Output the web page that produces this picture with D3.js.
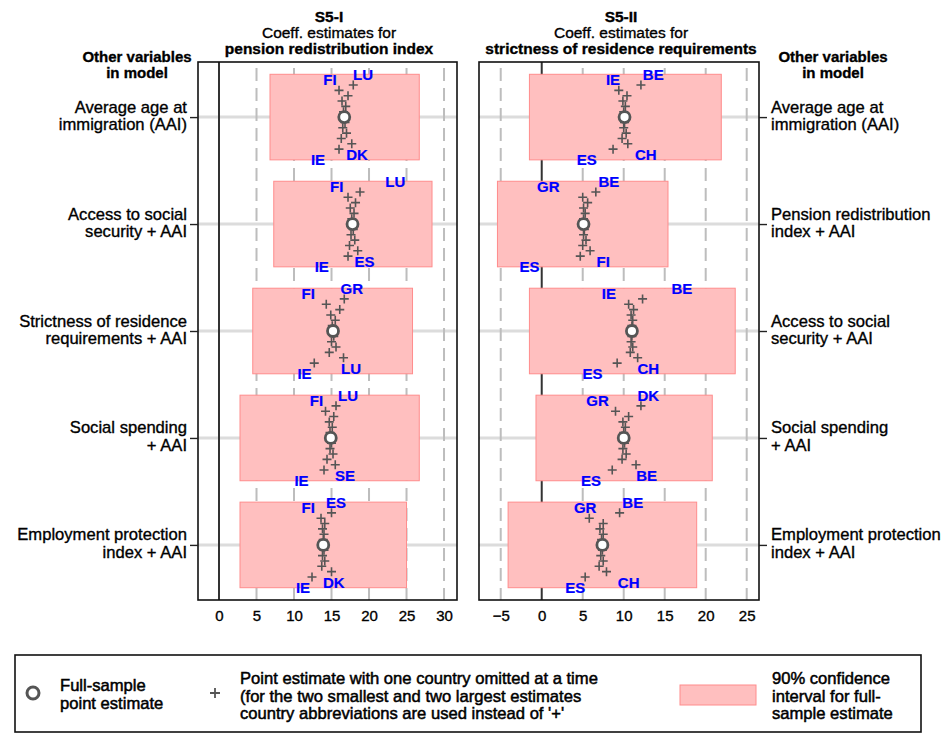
<!DOCTYPE html>
<html>
<head>
<meta charset="utf-8">
<script src="https://cdn.jsdelivr.net/npm/d3@7"></script>
<style>
  body { margin: 0; background: #fff; }
  svg text { font-family: "Liberation Sans", Arial, sans-serif; fill: #000; stroke: #000; stroke-width: 0.35px; }
</style>
</head>
<body>
<svg id="chart" width="951" height="733"></svg>
<script>
// ---- Row labels: other variables included in each model ----
const rowsI = [
  ["Average age at", "immigration (AAI)"],
  ["Access to social", "security + AAI"],
  ["Strictness of residence", "requirements + AAI"],
  ["Social spending", "+ AAI"],
  ["Employment protection", "index + AAI"]
];
const rowsII = [
  ["Average age at", "immigration (AAI)"],
  ["Pension redistribution", "index + AAI"],
  ["Access to social", "security + AAI"],
  ["Social spending", "+ AAI"],
  ["Employment protection", "index + AAI"]
];

// ---- Axis tick values ----
const ticksI = [0, 5, 10, 15, 20, 25, 30];
const ticksII = [-5, 0, 5, 10, 15, 20, 25];

// ---- S5-I: pension redistribution index ----
const pointI = [16.7, 17.8, 15.2, 14.9, 13.9];
const ciLowI = [6.8, 7.3, 4.5, 2.8, 2.8];
const ciHighI = [26.7, 28.4, 25.8, 26.7, 25.0];
// leave-one-country-out estimates (ascending)
const looI = [
  [13.2, 14.8, 16.0, 16.0, 16.3, 16.4, 16.5, 16.6, 16.7, 16.8, 16.9, 17.0, 17.2, 17.7, 17.9, 18.4, 19.2],
  [13.7, 15.7, 17.2, 17.2, 17.4, 17.5, 17.6, 17.7, 17.8, 17.9, 18.0, 18.1, 18.2, 18.5, 18.8, 19.4, 23.5],
  [11.4, 11.9, 12.7, 14.3, 14.7, 14.9, 15.0, 15.1, 15.2, 15.3, 15.5, 15.6, 16.1, 16.6, 16.7, 17.6, 17.7],
  [11.0, 13.0, 14.0, 14.2, 14.4, 14.7, 14.8, 14.8, 14.9, 15.0, 15.1, 15.2, 15.3, 15.5, 15.6, 16.8, 17.2],
  [11.2, 11.9, 12.4, 13.6, 13.7, 13.8, 13.8, 13.9, 13.9, 14.0, 14.0, 14.1, 14.1, 15.0, 15.0, 15.3, 15.6]
];
// countries behind [smallest, 2nd smallest, 2nd largest, largest]
const extremesI = [
  ["IE", "FI", "DK", "LU"],
  ["IE", "FI", "ES", "LU"],
  ["IE", "FI", "LU", "GR"],
  ["IE", "FI", "SE", "LU"],
  ["IE", "FI", "DK", "ES"]
];

// ---- S5-II: strictness of residence requirements ----
const pointII = [10.1, 5.1, 11.0, 10.0, 7.4];
const ciLowII = [-1.5, -5.4, -1.5, -0.7, -4.1];
const ciHighII = [21.9, 15.4, 23.6, 20.8, 18.9];
const looII = [
  [5.5, 8.7, 8.7, 9.4, 9.8, 9.9, 10.0, 10.0, 10.1, 10.1, 10.2, 10.3, 10.4, 10.5, 12.1, 12.7, 13.6],
  [-1.5, 0.8, 4.7, 5.0, 5.0, 5.1, 5.1, 5.1, 5.2, 5.2, 5.3, 5.4, 5.6, 5.9, 6.6, 7.5, 8.2],
  [6.2, 8.2, 9.2, 10.6, 10.8, 10.9, 10.9, 11.0, 11.0, 11.0, 11.1, 11.1, 11.2, 11.7, 12.3, 13.0, 17.1],
  [6.0, 6.8, 8.6, 9.0, 9.8, 9.9, 9.9, 10.0, 10.0, 10.1, 10.2, 10.3, 10.6, 11.5, 12.1, 12.8, 13.0],
  [4.1, 5.3, 5.3, 5.8, 7.0, 7.1, 7.2, 7.3, 7.4, 7.4, 7.5, 7.5, 7.5, 7.9, 9.5, 10.6, 11.1]
];
const extremesII = [
  ["ES", "IE", "CH", "BE"],
  ["ES", "GR", "FI", "BE"],
  ["ES", "IE", "CH", "BE"],
  ["ES", "GR", "BE", "DK"],
  ["ES", "GR", "CH", "BE"]
];

const svg = d3.select("#chart");
const TOP = 62, BOTTOM = 600;
const y = d3.scaleLinear().domain([0.485, 5.515]).range([TOP, BOTTOM]);

// Hourglass arrangement: extremes sit at the box edges, the median at the centre.
function slotOf(rank, n) {
  const mid = (n - 1) / 2;
  if (rank < mid) return rank % 2 ? rank : n - 1 - rank;
  if (rank === mid) return mid;
  const j = n - 1 - rank;
  return j % 2 ? n - 1 - j : j;
}
const SLOT_STEP = 0.05;   // vertical spacing between estimates (row units)
const BOX_HALF = 0.4;     // half-height of the confidence box (row units)

const PINK = "#ffbfbf", PINK_EDGE = "#ff8c8c", MARK = "#555555";

function plusPath(cx, cy, s) {
  return `M${cx - s},${cy}H${cx + s}M${cx},${cy - s}V${cy + s}`;
}

function drawPanel(cfg) {
  const x = d3.scaleLinear().domain(cfg.domain).range([cfg.x0, cfg.x1]);
  const g = svg.append("g");
  const rowIdx = d3.range(1, 6);

  // light row guides
  g.selectAll(".guide").data(rowIdx).join("line")
    .attr("x1", cfg.x0).attr("x2", cfg.x1)
    .attr("y1", d => y(d)).attr("y2", d => y(d))
    .attr("stroke", "#dcdcdc").attr("stroke-width", 3);

  // dashed reference lines
  g.selectAll(".grid").data(cfg.ticks.filter(t => t !== 0)).join("line")
    .attr("x1", d => x(d)).attr("x2", d => x(d))
    .attr("y1", TOP).attr("y2", BOTTOM)
    .attr("stroke", "#bdbdbd").attr("stroke-width", 2)
    .attr("stroke-dasharray", "13,7").attr("stroke-dashoffset", -6);

  // zero line
  g.append("line")
    .attr("x1", x(0)).attr("x2", x(0)).attr("y1", TOP).attr("y2", BOTTOM)
    .attr("stroke", "#333").attr("stroke-width", 2);

  // 90% confidence intervals
  g.selectAll(".ci").data(rowIdx).join("rect")
    .attr("x", (d, i) => x(cfg.lo[i]))
    .attr("width", (d, i) => x(cfg.hi[i]) - x(cfg.lo[i]))
    .attr("y", d => y(d - BOX_HALF))
    .attr("height", y(1 + BOX_HALF) - y(1 - BOX_HALF))
    .attr("fill", PINK).attr("stroke", PINK_EDGE).attr("stroke-width", 1);

  // leave-one-out estimates
  cfg.loo.forEach((vals, r) => {
    const n = vals.length;
    const items = vals.map((v, k) => {
      let label = null;
      if (k === 0) label = cfg.ext[r][0];
      else if (k === 1) label = cfg.ext[r][1];
      else if (k === n - 2) label = cfg.ext[r][2];
      else if (k === n - 1) label = cfg.ext[r][3];
      return { v, label, yy: (r + 1) + (slotOf(k, n) - (n - 1) / 2) * SLOT_STEP };
    });
    g.selectAll(null).data(items.filter(d => !d.label)).join("path")
      .attr("d", d => plusPath(x(d.v), y(d.yy), 4.5))
      .attr("stroke", MARK).attr("stroke-width", 1.6).attr("fill", "none");
    g.selectAll(null).data(items.filter(d => d.label)).join("text")
      .attr("x", d => x(d.v)).attr("y", d => y(d.yy))
      .attr("text-anchor", "middle").attr("dominant-baseline", "central")
      .attr("font-size", 15).attr("font-weight", "bold")
      .style("fill", "#0000ff").style("stroke", "#0000ff").style("stroke-width", "0.2px")
      .text(d => d.label);
  });

  // full-sample point estimates
  g.selectAll(".pt").data(rowIdx).join("circle")
    .attr("cx", (d, i) => x(cfg.pt[i])).attr("cy", d => y(d))
    .attr("r", 5.5).attr("fill", "#fff").attr("stroke", MARK).attr("stroke-width", 2.8);

  // frame
  g.append("rect")
    .attr("x", cfg.x0).attr("y", TOP).attr("width", cfg.x1 - cfg.x0).attr("height", BOTTOM - TOP)
    .attr("fill", "none").attr("stroke", "#111").attr("stroke-width", 1.6);

  // x axis labels
  const xa = g.append("g").attr("transform", `translate(0,${BOTTOM})`)
    .call(d3.axisBottom(x).tickValues(cfg.ticks).tickSize(0).tickPadding(10).tickFormat(d3.format("d")));
  xa.select(".domain").remove();
  xa.selectAll("text").attr("font-size", 15)
    .style("font-family", "'Liberation Sans', Arial, sans-serif")
    .style("fill", "#000").style("stroke", "#000").style("stroke-width", "0.35px");

  // y axis ticks (outside the frame)
  const ya = g.append("g")
    .attr("transform", `translate(${cfg.side === "left" ? cfg.x0 : cfg.x1},0)`)
    .call((cfg.side === "left" ? d3.axisLeft(y) : d3.axisRight(y))
      .tickValues(rowIdx).tickSize(8).tickFormat(""));
  ya.select(".domain").remove();
  ya.selectAll("line").attr("stroke", "#222").attr("stroke-width", 1.4);

  // row labels
  const lx = cfg.side === "left" ? cfg.x0 - 11 : cfg.x1 + 12;
  cfg.rows.forEach((lines, i) => {
    const t = svg.append("text")
      .attr("x", lx).attr("y", y(i + 1) - 4.5)
      .attr("text-anchor", cfg.side === "left" ? "end" : "start")
      .attr("font-size", 16.6);
    lines.forEach((ln, j) => t.append("tspan").attr("x", lx).attr("dy", j === 0 ? 0 : 17.5).text(ln));
  });

  // header for the row labels
  const hx = cfg.side === "left" ? 137 : 833;
  svg.append("text").attr("x", hx).attr("y", 62).attr("text-anchor", "middle")
    .attr("font-size", 15).attr("font-weight", "bold").text("Other variables");
  svg.append("text").attr("x", hx).attr("y", 78).attr("text-anchor", "middle")
    .attr("font-size", 15).attr("font-weight", "bold").text("in model");

  // panel title
  const tx = cfg.titleX;
  svg.append("text").attr("x", tx).attr("y", 22).attr("text-anchor", "middle")
    .attr("font-size", 15.5).attr("font-weight", "bold").text(cfg.title[0]);
  svg.append("text").attr("x", tx).attr("y", 38).attr("text-anchor", "middle")
    .attr("font-size", 15.5).text(cfg.title[1]);
  svg.append("text").attr("x", tx).attr("y", 54).attr("text-anchor", "middle")
    .attr("font-size", 15.5).attr("font-weight", "bold").text(cfg.title[2]);
}

drawPanel({
  x0: 198, x1: 457, domain: [-2.8, 31.73], ticks: ticksI,
  pt: pointI, lo: ciLowI, hi: ciHighI, loo: looI, ext: extremesI,
  rows: rowsI, side: "left", titleX: 329,
  title: ["S5-I", "Coeff. estimates for", "pension redistribution index"]
});
drawPanel({
  x0: 479, x1: 759, domain: [-7.65, 26.5], ticks: ticksII,
  pt: pointII, lo: ciLowII, hi: ciHighII, loo: looII, ext: extremesII,
  rows: rowsII, side: "right", titleX: 621,
  title: ["S5-II", "Coeff. estimates for", "strictness of residence requirements"]
});

// ---- legend ----
const leg = svg.append("g");
leg.append("rect").attr("x", 15).attr("y", 655).attr("width", 906).attr("height", 77)
  .attr("fill", "#fff").attr("stroke", "#111").attr("stroke-width", 1.6);
leg.append("circle").attr("cx", 33).attr("cy", 693).attr("r", 6)
  .attr("fill", "#fff").attr("stroke", MARK).attr("stroke-width", 3);
leg.append("path").attr("d", plusPath(215, 693, 5))
  .attr("stroke", MARK).attr("stroke-width", 1.8);
leg.append("rect").attr("x", 680).attr("y", 685).attr("width", 76).attr("height", 20)
  .attr("fill", PINK).attr("stroke", PINK_EDGE).attr("stroke-width", 1);

function legendText(x0, y0, lines) {
  const t = leg.append("text").attr("x", x0).attr("y", y0).attr("font-size", 16.6)
    .style("stroke-width", "0.5px");
  lines.forEach((ln, j) => t.append("tspan").attr("x", x0).attr("dy", j === 0 ? 0 : 17.5).text(ln));
}
legendText(60, 691, ["Full-sample", "point estimate"]);
legendText(240, 684, ["Point estimate with one country omitted at a time",
  "(for the two smallest and two largest estimates",
  "country abbreviations are used instead of '+'"]);
legendText(772, 684, ["90% confidence", "interval for full-", "sample estimate"]);
</script>
</body>
</html>
